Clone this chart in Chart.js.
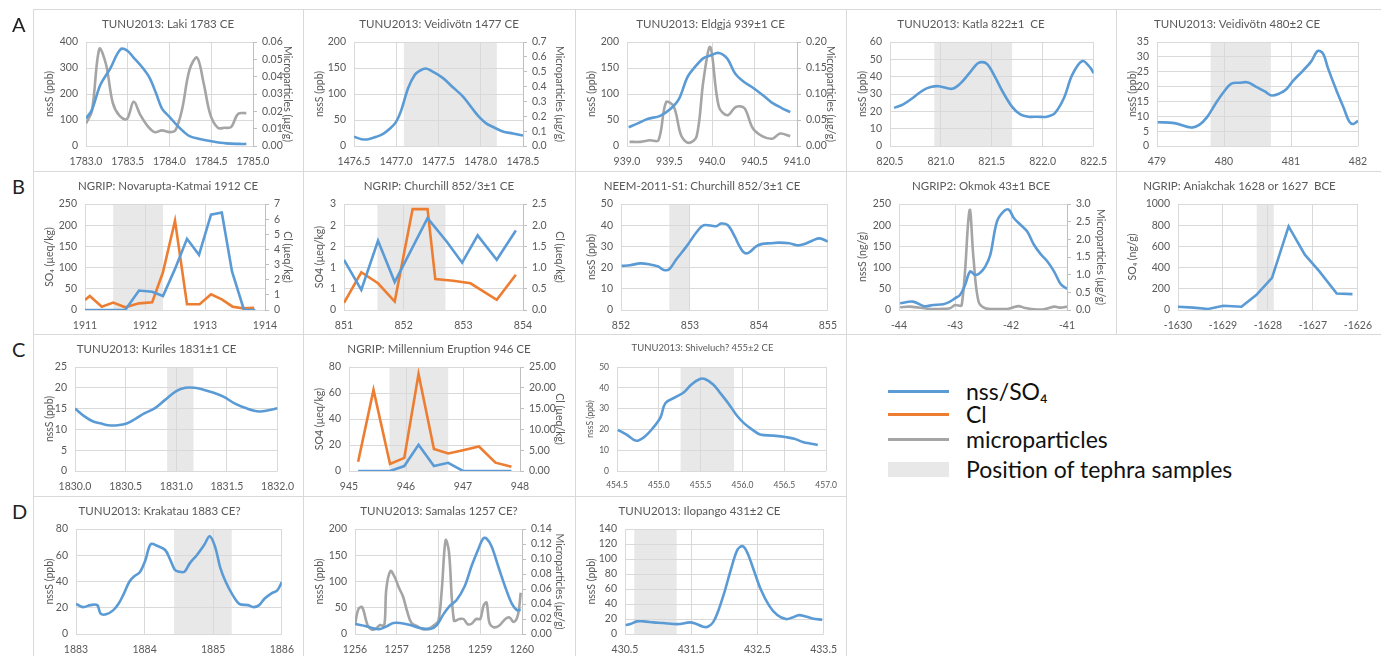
<!DOCTYPE html>
<html>
<head>
<meta charset="utf-8">
<script src="https://cdn.jsdelivr.net/npm/chart.js@4.4.1/dist/chart.umd.min.js"></script>
<style>
  body { margin: 0; width: 1381px; height: 656px; overflow: hidden; position: relative; background: #fff; font-family: Lato, "Open Sans", sans-serif; }
  canvas { position: absolute; }
  .frame { position: absolute; border: 1px solid #d9d9d9; box-sizing: border-box; pointer-events: none; }
  .rowlabel { position: absolute; left: 12px; font-size: 20px; color: #222; line-height: 20px; }
  .lg-line { position: absolute; left: 888px; width: 61px; height: 3px; }
  .lg-text { position: absolute; left: 966px; font-size: 23px; line-height: 26px; height: 26px; color: #111; white-space: nowrap; }
</style>
</head>
<body>
<script>
// ---------- data ----------
// A: TUNU2013 Laki
const lakiYears = [1783.0, 1783.07, 1783.17, 1783.29, 1783.41, 1783.49, 1783.57, 1783.67, 1783.76, 1783.84, 1783.91, 1784.0, 1784.08, 1784.17, 1784.24, 1784.36, 1784.52, 1784.68, 1784.84, 1784.92];
const lakiNss = [106, 138, 234, 298, 371, 368, 340, 304, 263, 202, 144, 112, 83, 55, 38, 27, 17, 10, 8, 8];
const lakiMicroYears = [1783.0, 1783.07, 1783.16, 1783.24, 1783.32, 1783.40, 1783.49, 1783.57, 1783.65, 1783.73, 1783.82, 1783.91, 1784.0, 1784.07, 1784.15, 1784.24, 1784.33, 1784.41, 1784.49, 1784.58, 1784.66, 1784.74, 1784.82, 1784.92];
const lakiMicro = [0.013, 0.020, 0.056, 0.047, 0.025, 0.0175, 0.0155, 0.0255, 0.018, 0.012, 0.008, 0.009, 0.008, 0.009, 0.021, 0.044, 0.051, 0.036, 0.018, 0.0105, 0.0105, 0.011, 0.0185, 0.019];

// A: TUNU2013 Veidivotn 1477
const veid1477Years = [1476.5, 1476.59, 1476.67, 1476.77, 1476.85, 1476.93, 1477.0, 1477.06, 1477.14, 1477.22, 1477.28, 1477.35, 1477.43, 1477.55, 1477.67, 1477.79, 1477.9, 1477.98, 1478.06, 1478.14, 1478.26, 1478.38, 1478.5];
const veid1477Nss = [18, 13, 13, 18, 24, 34, 47, 69, 111, 137, 145, 149, 143, 131, 113, 95, 72, 56, 44, 37, 28, 24, 20];
const veid1477Tephra = [1477.09, 1478.19];

// A: TUNU2013 Eldgja
const eldYears = [939.02, 939.12, 939.24, 939.39, 939.51, 939.61, 939.71, 939.8, 939.9, 939.98, 940.08, 940.18, 940.27, 940.37, 940.49, 940.61, 940.7, 940.82, 940.92];
const eldNss = [36, 43, 52, 58, 71, 90, 132, 152, 169, 174, 179, 168, 140, 124, 111, 96, 84, 73, 65];
const eldMicroYears = [939.03, 939.16, 939.27, 939.37, 939.46, 939.55, 939.64, 939.73, 939.82, 939.9, 939.98, 940.08, 940.18, 940.28, 940.38, 940.48, 940.59, 940.71, 940.8, 940.92];
const eldMicro = [0.008, 0.008, 0.011, 0.011, 0.084, 0.076, 0.019, 0.006, 0.019, 0.127, 0.19, 0.076, 0.059, 0.075, 0.073, 0.034, 0.019, 0.014, 0.024, 0.019];

// A: TUNU2013 Katla
const katlaYears = [820.54, 820.63, 820.73, 820.82, 820.9, 820.98, 821.11, 821.19, 821.28, 821.37, 821.45, 821.53, 821.61, 821.7, 821.78, 821.86, 821.95, 822.04, 822.12, 822.21, 822.29, 822.39, 822.47, 822.5];
const katlaNss = [22, 24, 28, 32, 34, 34.5, 33, 36, 42, 48, 47.5, 40, 31, 22.6, 18.2, 16.9, 16.9, 16.9, 19, 27.8, 41, 49, 45, 42];
const katlaTephra = [820.935, 821.7];

// A: TUNU2013 Veidivotn 480
const v480Years = [479.01, 479.26, 479.51, 479.63, 479.75, 479.89, 480.01, 480.11, 480.23, 480.36, 480.48, 480.61, 480.71, 480.83, 480.93, 481.03, 481.18, 481.3, 481.4, 481.48, 481.55, 481.68, 481.79, 481.87, 481.93, 482.0];
const v480Nss = [8, 7.7, 6.2, 7.1, 9.8, 14.8, 18.6, 21, 21.3, 21.4, 19.9, 18.4, 17, 17.7, 19.1, 21.9, 25.4, 28.4, 32, 31, 26.3, 18.6, 12.6, 8.2, 7.4, 8.5];
const v480Tephra = [479.8, 480.7];

// B: NGRIP Novarupta-Katmai
const novYears = [1911.0, 1911.67, 1911.9, 1912.12, 1912.3, 1912.5, 1912.7, 1912.9, 1913.1, 1913.28, 1913.45, 1913.65, 1913.84];
const novSo4 = [0, 0, 46, 43, 33, 97, 168, 130, 225, 230, 91, 0, 0];
const novClYears = [1911.0, 1911.08, 1911.28, 1911.47, 1911.67, 1911.9, 1912.12, 1912.3, 1912.5, 1912.7, 1912.91, 1913.1, 1913.28, 1913.46, 1913.64, 1913.82];
const novCl = [0.66, 0.93, 0.22, 0.49, 0.18, 0.44, 0.51, 2.5, 5.9, 0.38, 0.38, 1.04, 0.7, 0.22, 0.11, 0.15];
const novTephra = [1911.47, 1912.3];

// B: NGRIP Churchill
const chuYears = [851.0, 851.29, 851.57, 851.85, 852.4, 852.72, 852.98, 853.24, 853.56, 853.88];
const chuSo4 = [1.42, 0.57, 1.96, 0.79, 2.6, 1.94, 1.34, 2.11, 1.42, 2.25];
const chuClYears = [851.0, 851.29, 851.57, 851.85, 852.15, 852.4, 852.53, 852.83, 853.12, 853.56, 853.88];
const chuCl = [0.17, 0.89, 0.63, 0.2, 2.38, 2.38, 0.73, 0.69, 0.63, 0.24, 0.83];
const chuTephra = [851.56, 852.7];

// B: NEEM-2011-S1 Churchill
const neemYears = [852.01, 852.13, 852.28, 852.42, 852.54, 852.62, 852.7, 852.8, 852.95, 853.1, 853.2, 853.38, 853.45, 853.55, 853.65, 853.72, 853.79, 853.86, 853.96, 854.05, 854.17, 854.29, 854.44, 854.56, 854.65, 854.78, 854.88, 855.0];
const neemNss = [20.8, 21.1, 22, 21.5, 20.5, 18.9, 19.2, 23.8, 30, 36.9, 40, 39.5, 40.8, 40, 34.6, 30, 26.9, 27.2, 30, 31.2, 31.5, 31.8, 31.5, 30.5, 31, 32.8, 33.8, 32.3];
const neemTephra = [852.7, 852.99];

// B: NGRIP2 Okmok
const okmYears = [-43.98, -43.75, -43.55, -43.39, -43.21, -43.09, -43.0, -42.91, -42.82, -42.73, -42.64, -42.56, -42.46, -42.37, -42.25, -42.13, -42.04, -41.95, -41.83, -41.71, -41.59, -41.47, -41.35, -41.23, -41.11, -41.0];
const okmNss = [15.8, 19.7, 9, 11.8, 13.4, 19.7, 27.6, 35.5, 59, 90.7, 82.8, 86.8, 102.5, 130, 209, 232.6, 236.6, 216.9, 201, 185, 153.8, 131.7, 114.4, 90.7, 60.7, 49.7];
const okmMicroYears = [-43.98, -43.8, -43.45, -43.27, -43.09, -43.0, -42.88, -42.74, -42.67, -42.58, -42.46, -42.25, -42.07, -41.98, -41.86, -41.77, -41.59, -41.41, -41.23, -41.11, -41.0];
const okmMicro = [0.076, 0.095, 0.03, 0.03, 0.05, 0.14, 0.14, 2.82, 1.47, 0.24, 0.05, 0.03, 0.03, 0.066, 0.11, 0.066, 0.02, 0.02, 0.095, 0.066, 0.095];

// B: NGRIP Aniakchak
const aniYears = [-1630, -1629.66, -1629.33, -1628.99, -1628.59, -1628.26, -1627.91, -1627.54, -1627.18, -1626.86, -1626.47, -1626.12];
const aniSo4 = [31, 22, 10, 40, 31, 141, 303, 788, 522, 366, 156, 150];
const aniTephra = [-1628.25, -1627.87];

// C: TUNU2013 Kuriles
const kurYears = [1830.0, 1830.09, 1830.18, 1830.26, 1830.33, 1830.42, 1830.51, 1830.6, 1830.68, 1830.79, 1830.89, 1831.0, 1831.09, 1831.18, 1831.26, 1831.37, 1831.47, 1831.58, 1831.7, 1831.82, 1831.91, 1832.0];
const kurNss = [15, 13.2, 11.9, 11.4, 11.0, 11.0, 11.4, 12.6, 13.8, 15.1, 17.1, 19.2, 20.0, 20.0, 19.6, 18.8, 17.8, 16.2, 15.0, 14.3, 14.6, 15.1];
const kurTephra = [1830.91, 1831.17];

// C: NGRIP Millennium Eruption
const milYears = [945.16, 945.43, 945.72, 945.97, 946.22, 946.49, 946.74, 947.0, 947.28, 947.57, 947.85];
const milSo4 = [0, 0, 0, 3.8, 20.2, 3.8, 6.3, 0, 0, 0, 0];
const milCl = [2.2, 19.5, 1.7, 3.15, 23.3, 5.3, 4.2, 5.0, 5.9, 2.0, 1.0];
const milTephra = [945.71, 946.74];

// C: TUNU2013 Shiveluch?
const shvYears = [454.51, 454.61, 454.7, 454.75, 454.83, 454.92, 455.02, 455.08, 455.21, 455.3, 455.39, 455.49, 455.55, 455.65, 455.74, 455.84, 455.93, 456.02, 456.12, 456.21, 456.37, 456.53, 456.62, 456.72, 456.82, 456.9];
const shvNss = [19.8, 17.6, 15, 14.6, 16.5, 20.2, 25.8, 32.7, 35.7, 37.9, 41.6, 44.2, 44.2, 41.6, 37.2, 32, 26.8, 22.9, 19.8, 17.6, 17, 16.2, 15.5, 14, 13.1, 12.5];
const shvTephra = [455.26, 455.9];

// D: TUNU2013 Krakatau
const kraYears = [1883.0, 1883.1, 1883.21, 1883.31, 1883.36, 1883.44, 1883.54, 1883.62, 1883.7, 1883.78, 1883.85, 1883.93, 1884.01, 1884.09, 1884.19, 1884.3, 1884.37, 1884.44, 1884.5, 1884.58, 1884.66, 1884.76, 1884.87, 1884.95, 1885.03, 1885.1, 1885.18, 1885.28, 1885.38, 1885.51, 1885.59, 1885.67, 1885.75, 1885.85, 1885.93, 1886.0];
const kraNss = [23, 20.5, 22, 22, 15.5, 15, 18, 23, 31, 40, 44, 47, 56, 68.5, 67, 64, 57, 49, 47.5, 47.5, 54, 60, 68, 74.5, 66, 51, 40, 30, 23, 22, 20.5, 22, 27, 31, 33, 39.5];
const kraTephra = [1884.43, 1885.27];

// D: TUNU2013 Samalas
const samYears = [1256.0, 1256.28, 1256.44, 1256.6, 1256.76, 1256.92, 1257.08, 1257.32, 1257.56, 1257.8, 1257.96, 1258.12, 1258.27, 1258.43, 1258.63, 1258.79, 1258.95, 1259.07, 1259.15, 1259.27, 1259.43, 1259.59, 1259.75, 1259.87, 1259.97];
const samNss = [19, 14.5, 10.7, 9.5, 14.5, 20.8, 20.8, 17, 11.4, 9.5, 17, 37.9, 53.6, 64.4, 91.5, 129, 161, 182, 182, 167, 129, 91.5, 58.7, 46, 46];
const samMicroYears = [1256.0, 1256.08, 1256.17, 1256.3, 1256.4, 1256.5, 1256.6, 1256.7, 1256.75, 1256.85, 1256.95, 1257.05, 1257.15, 1257.25, 1257.35, 1257.5, 1257.65, 1257.8, 1257.9, 1258.0, 1258.08, 1258.17, 1258.25, 1258.37, 1258.5, 1258.6, 1258.7, 1258.8, 1258.9, 1259.0, 1259.08, 1259.15, 1259.22, 1259.32, 1259.45, 1259.6, 1259.7, 1259.8, 1259.9, 1259.97];
const samMicro = [0.012, 0.033, 0.036, 0.012, 0.006, 0.007, 0.012, 0.011, 0.06, 0.084, 0.076, 0.062, 0.05, 0.03, 0.015, 0.01, 0.006, 0.008, 0.012, 0.018, 0.06, 0.125, 0.11, 0.018, 0.02, 0.02, 0.013, 0.014, 0.02, 0.02, 0.038, 0.042, 0.015, 0.009, 0.011, 0.02, 0.022, 0.016, 0.025, 0.055];

// D: TUNU2013 Ilopango
const iloYears = [430.51, 430.58, 430.68, 430.78, 430.93, 431.08, 431.23, 431.33, 431.48, 431.58, 431.68, 431.75, 431.83, 431.9, 432.0, 432.1, 432.2, 432.28, 432.35, 432.45, 432.55, 432.68, 432.8, 432.93, 433.03, 433.13, 433.23, 433.33, 433.48];
const iloNss = [11.9, 13.3, 16.8, 16.8, 15.5, 14.6, 13.3, 13.3, 15.5, 13.3, 9.7, 9.7, 15.5, 28.7, 55.2, 86, 112.6, 117, 108, 84, 59.6, 37.5, 25.2, 19.9, 22, 25.2, 23.4, 20.8, 19];
const iloTephra = [430.64, 431.28];

const legendLabels = ['nss/SO₄', 'Cl', 'microparticles', 'Position of tephra samples'];

// ---------- style ----------
const COLORS = { nss: '#5B9BD5', cl: '#ED7D31', micro: '#A5A5A5' };
const GRID = '#D9D9D9';
const TEXT = '#595959';
const FONT = 'Lato, "Open Sans", sans-serif';

// grey band for tephra sample position, drawn under the grid
Chart.register({
    id: 'tephra',
    beforeDraw(chart, args, opts) {
        const band = opts.band;
        if (!band) return;
        const { ctx, chartArea: a, scales: { x } } = chart;
        const p0 = Math.max(a.left, x.getPixelForValue(band[0]));
        const p1 = Math.min(a.right, x.getPixelForValue(band[1]));
        ctx.save();
        ctx.fillStyle = '#E8E8E8';
        ctx.fillRect(p0, a.top, p1 - p0, a.bottom - a.top);
        ctx.restore();
    }
});

const colsAB = [33, 303, 575, 846, 1116, 1381];
const colsCD = [33, 303, 575, 846];
const rows = [[9, 171], [171, 334], [334, 496], [496, 658]];
const rowMargins = [[33, 25], [33, 24], [33, 25], [33, 24]];

// m = [left, right] plot margins inside the panel
const panels = [
    { r: 0, c: 0, m: [53, 50], title: 'TUNU2013: Laki 1783 CE', x: [1783, 1785, 0.5, 1],
      y: [400, 100, 0, 'nssS (ppb)'], y2: [0.06, 0.01, 2, 'Microparticles (µg/g)'], smooth: true,
      series: [[lakiYears, lakiNss, 'nss', 'y'], [lakiMicroYears, lakiMicro, 'micro', 'y2']] },
    { r: 0, c: 1, m: [51, 52], title: 'TUNU2013: Veidivötn 1477 CE', x: [1476.5, 1478.5, 0.5, 1],
      y: [200, 50, 0, 'nssS (ppb)'], y2: [0.7, 0.1, 1, 'Microparticles (µg/g)'], smooth: true, band: veid1477Tephra,
      series: [[veid1477Years, veid1477Nss, 'nss', 'y']] },
    { r: 0, c: 2, m: [52, 49], title: 'TUNU2013: Eldgjá 939±1 CE', x: [939, 941, 0.5, 1],
      y: [200, 50, 0, 'nssS (ppb)'], y2: [0.2, 0.05, 2, 'Microparticles (µg/g)'], smooth: true,
      series: [[eldYears, eldNss, 'nss', 'y'], [eldMicroYears, eldMicro, 'micro', 'y2']] },
    { r: 0, c: 3, m: [44, 20], title: 'TUNU2013: Katla 822±1  CE', x: [820.5, 822.5, 0.5, 1],
      y: [60, 10, 0, 'nssS (ppb)'], smooth: true, band: katlaTephra,
      series: [[katlaYears, katlaNss, 'nss', 'y']] },
    { r: 0, c: 4, m: [41, 23], title: 'TUNU2013: Veidivötn 480±2 CE', x: [479, 482, 1, 0],
      y: [35, 5, 0, 'nssS (ppb)'], smooth: true, band: v480Tephra,
      series: [[v480Years, v480Nss, 'nss', 'y']] },

    { r: 1, c: 0, m: [52, 38], title: 'NGRIP: Novarupta-Katmai 1912 CE', x: [1911, 1914, 1, 0],
      y: [250, 50, 0, 'SO₄ (µeq/kg)'], y2: [7, 1, 0, 'Cl (µeq/kg)'], band: novTephra,
      series: [[novYears, novSo4, 'nss', 'y'], [novClYears, novCl, 'cl', 'y2']] },
    { r: 1, c: 1, m: [41, 52], title: 'NGRIP: Churchill 852/3±1 CE', x: [851, 854, 1, 0],
      y: [3, 0.6, 0, 'SO4 (µeq/kg)'], y2: [2.5, 0.5, 1, 'Cl (µeq/kg)'], band: chuTephra,
      series: [[chuYears, chuSo4, 'nss', 'y'], [chuClYears, chuCl, 'cl', 'y2']] },
    { r: 1, c: 2, m: [46, 17], title: 'NEEM-2011-S1: Churchill 852/3±1 CE', x: [852, 855, 1, 0],
      y: [50, 10, 0, 'nssS (ppb)'], smooth: true, band: neemTephra,
      series: [[neemYears, neemNss, 'nss', 'y']] },
    { r: 1, c: 3, m: [53, 49], title: 'NGRIP2: Okmok 43±1 BCE', x: [-44, -41, 1, 0],
      y: [250, 50, 0, 'nssS (ng/g)'], y2: [3, 0.5, 1, 'Microparticles (µg/g)'], smooth: true,
      series: [[okmYears, okmNss, 'nss', 'y'], [okmMicroYears, okmMicro, 'micro', 'y2']] },
    { r: 1, c: 4, m: [62, 18], title: 'NGRIP: Aniakchak 1628 or 1627  BCE', x: [-1630, -1626, 1, 0],
      y: [1000, 200, 0, 'SO₄ (ng/g)'], band: aniTephra,
      series: [[aniYears, aniSo4, 'nss', 'y']] },

    { r: 2, c: 0, m: [42, 23], title: 'TUNU2013: Kuriles 1831±1 CE', x: [1830, 1832, 0.5, 1],
      y: [25, 5, 0, 'nssS (ppb)'], smooth: true, band: kurTephra,
      series: [[kurYears, kurNss, 'nss', 'y']] },
    { r: 2, c: 1, m: [46, 55], title: 'NGRIP: Millennium Eruption 946 CE', x: [945, 948, 1, 0],
      y: [80, 20, 0, 'SO4 (µeq/kg)'], y2: [25, 5, 2, 'Cl (µeq/kg)'], band: milTephra,
      series: [[milYears, milSo4, 'nss', 'y'], [milYears, milCl, 'cl', 'y2']] },
    { r: 2, c: 2, m: [42, 16], title: 'TUNU2013: Shiveluch? 455±2 CE', x: [454.5, 457, 0.5, 1],
      y: [50, 10, 0, 'nssS (ppb)'], smooth: true, small: true, band: shvTephra,
      series: [[shvYears, shvNss, 'nss', 'y']] },

    { r: 3, c: 0, m: [43, 17], title: 'TUNU2013: Krakatau 1883 CE?', x: [1883, 1886, 1, 0],
      y: [80, 20, 0, 'nssS (ppb)'], smooth: true, band: kraTephra,
      series: [[kraYears, kraNss, 'nss', 'y']] },
    { r: 3, c: 1, m: [52, 53], title: 'TUNU2013: Samalas 1257 CE?', x: [1256, 1260, 1, 0],
      y: [200, 50, 0, 'nssS (ppb)'], y2: [0.14, 0.02, 2, 'Microparticles (µg/g)'], smooth: true,
      series: [[samYears, samNss, 'nss', 'y'], [samMicroYears, samMicro, 'micro', 'y2']] },
    { r: 3, c: 2, m: [50, 22], title: 'TUNU2013: Ilopango 431±2 CE', x: [430.5, 433.5, 1, 1],
      y: [140, 20, 0, 'nssS (ppb)'], smooth: true, band: iloTephra,
      series: [[iloYears, iloNss, 'nss', 'y']] }
];

function fmt(d) {
    return v => Number(v).toFixed(d);
}

function build(p) {
    const cols = p.r < 2 ? colsAB : colsCD;
    const left = cols[p.c], w = cols[p.c + 1] - left;
    const top = rows[p.r][0], h = rows[p.r][1] - top;
    const [mt, mb] = rowMargins[p.r];
    const [ml, mr] = p.m;

    const cv = document.createElement('canvas');
    cv.width = w; cv.height = h;
    cv.style.left = left + 'px'; cv.style.top = top + 'px';
    cv.style.width = w + 'px'; cv.style.height = h + 'px';
    document.body.appendChild(cv);

    const fr = document.createElement('div');
    fr.className = 'frame';
    fr.style.cssText = `left:${left}px;top:${top}px;width:${w + 1}px;height:${h + 1}px`;
    document.body.appendChild(fr);

    const ts = p.small ? 8.5 : 10.5;
    const tickFont = { family: FONT, size: ts };
    const titleSize = p.small ? 9.5 : 11.5;

    const scales = {
        x: {
            type: 'linear', min: p.x[0], max: p.x[1],
            ticks: { stepSize: p.x[2], callback: fmt(p.x[3]), color: TEXT, font: tickFont, padding: 9, maxRotation: 0, autoSkip: false },
            grid: { color: GRID, drawTicks: false },
            border: { display: false },
            afterFit: s => { s.height = mb; }
        },
        y: {
            type: 'linear', position: 'left', min: 0, max: p.y[0],
            ticks: { stepSize: p.y[1], callback: fmt(p.y[2]), color: TEXT, font: tickFont, padding: 8, autoSkip: false },
            grid: { color: GRID, drawTicks: false },
            border: { display: false },
            title: { display: true, text: p.y[3], color: TEXT, font: { family: FONT, size: ts }, padding: { top: 10 } },
            afterFit: s => { s.width = ml; }
        }
    };
    if (p.y2) {
        scales.y2 = {
            type: 'linear', position: 'right', min: 0, max: p.y2[0],
            ticks: { stepSize: p.y2[1], callback: fmt(p.y2[2]), color: TEXT, font: tickFont, padding: 5, autoSkip: false },
            grid: { drawOnChartArea: false, drawTicks: true, tickLength: 4, color: '#BFBFBF' },
            border: { display: true, color: '#BFBFBF' },
            title: { display: true, text: p.y2[3], color: TEXT, font: { family: FONT, size: ts }, padding: { top: 9 } },
            afterFit: s => { s.width = mr; }
        };
    }

    new Chart(cv.getContext('2d'), {
        type: 'line',
        data: {
            datasets: p.series.map(([xs, ys, kind, axis]) => ({
                data: xs.map((x, i) => ({ x: x, y: ys[i] })),
                borderColor: COLORS[kind],
                borderWidth: 2.6,
                pointRadius: 0,
                tension: p.smooth ? 0.35 : 0,
                yAxisID: axis,
                fill: false
            }))
        },
        options: {
            responsive: false,
            animation: false,
            layout: { padding: { left: 0, right: p.y2 ? 0 : mr, top: 0, bottom: 0 } },
            scales: scales,
            plugins: {
                legend: { display: false },
                tooltip: { enabled: false },
                tephra: { band: p.band },
                title: {
                    display: true, text: p.title, color: TEXT,
                    font: { family: FONT, size: titleSize, weight: 'normal' },
                    padding: { top: 8, bottom: mt - 8 - titleSize * 1.2 }
                }
            }
        }
    });
}

panels.forEach(build);

// row letters
['A', 'B', 'C', 'D'].forEach((t, i) => {
    const d = document.createElement('div');
    d.className = 'rowlabel';
    d.textContent = t;
    d.style.top = (rows[i][0] + 5) + 'px';
    document.body.appendChild(d);
});

// figure legend
const legendY = [391, 414, 439, 469];
const legendSwatch = [COLORS.nss, COLORS.cl, COLORS.micro, '#E8E8E8'];
legendLabels.forEach((label, i) => {
    const sw = document.createElement('div');
    sw.className = 'lg-line';
    sw.style.background = legendSwatch[i];
    if (i === 3) { sw.style.height = '15px'; sw.style.top = (legendY[i] - 7.5) + 'px'; }
    else { sw.style.top = (legendY[i] - 1.5) + 'px'; }
    document.body.appendChild(sw);
    const tx = document.createElement('div');
    tx.className = 'lg-text';
    tx.textContent = label;
    tx.style.top = (legendY[i] - 13) + 'px';
    document.body.appendChild(tx);
});
</script>
</body>
</html>
